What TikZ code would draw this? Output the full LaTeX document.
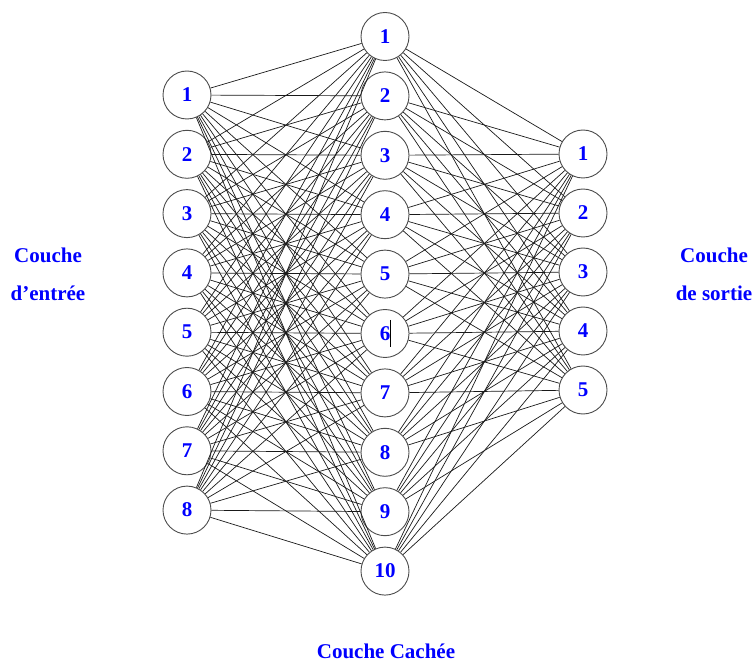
\documentclass[tikz,border=0pt]{standalone}
\usepackage{fontspec}
\setmainfont{Liberation Serif}
\begin{document}
\begin{tikzpicture}[x=1pt,y=-1pt,
  neuron/.style={circle,draw=black!70,line width=0.9pt,minimum size=48pt,inner sep=0pt,
    font=\fontsize{21}{23}\selectfont\bfseries,text=blue},
  link/.style={draw=black!90,line width=0.7pt},
  layerlabel/.style={font=\fontsize{21}{24}\selectfont\bfseries,text=blue,align=center}]
\useasboundingbox (0,0) rectangle (756,663);
% input layer
\foreach \i in {1,...,8}
  \node[neuron] (in\i) at (187,{95+59.3*(\i-1)}) {\i};
% hidden layer
\foreach \i in {1,...,10}
  \node[neuron] (hid\i) at (385,{36.5+59.4*(\i-1)}) {\i};
% output layer
\foreach \i in {1,...,5}
  \node[neuron] (out\i) at (583,{154+59*(\i-1)}) {\i};
% fully connected weights
\foreach \i in {1,...,8}
  \foreach \j in {1,...,10}
    \draw[link] (in\i) -- (hid\j);
\foreach \j in {1,...,10}
  \foreach \k in {1,...,5}
    \draw[link] (hid\j) -- (out\k);
% text cursor mark inside hidden neuron 6
\coordinate (tickTop) at (390.5,320);
\coordinate (tickBot) at (390.5,347);
\draw[line width=0.9pt] (tickTop) -- (tickBot);
% layer captions
\node[layerlabel] (labIn1) at (48,255) {Couche};
\node[layerlabel] (labIn2) at (48,293) {d’entrée};
\node[layerlabel] (labOut1) at (714,255) {Couche};
\node[layerlabel] (labOut2) at (714,293) {de sortie};
\node[layerlabel] (labHid) at (386,651) {Couche Cachée};
\end{tikzpicture}
\end{document}
